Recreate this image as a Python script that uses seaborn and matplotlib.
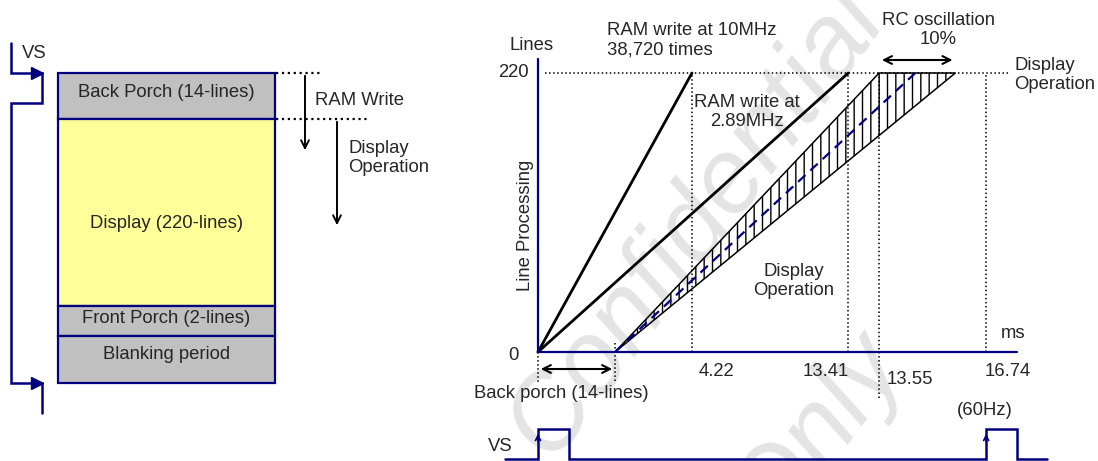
import numpy as np
import matplotlib
matplotlib.use("Agg")
import matplotlib.pyplot as plt
import seaborn as sns

# ---------------- data ----------------
frame_sections = ["Back Porch (14-lines)", "Display (220-lines)",
                  "Front Porch (2-lines)", "Blanking period"]
section_lines = [14, 220, 2, None]
section_colors = ["#C0C0C0", "#FFFF99", "#C0C0C0", "#C0C0C0"]

total_lines = 220
time_labels = ["4.22", "13.41", "13.55", "16.74"]
time_positions = [2.0, 4.03, 4.43, 5.82]      # schematic (non-linear) time axis
back_porch_end = 1.0
ram_series = ["RAM write at 10MHz", "RAM write at 2.89MHz"]
ram_end_times = [2.0, 4.03]
display_end_fast = 4.43
display_end_slow = 5.42
display_end_nominal = 4.9
vs_pulse_starts = [0.0, 5.82]
vs_pulse_width = 0.40

# ---------------- layout / style ----------------
section_draw_heights = [46, 187, 30, 47]   # schematic drawing heights (px)
label_frac = [0.43, 0.56, 0.42, 0.40]

sns.set_theme(style="white")
plt.rcParams['font.family'] = ['Liberation Sans', 'DejaVu Sans']
plt.rcParams['hatch.linewidth'] = 1.0
plt.rcParams['hatch.color'] = 'black'
NAVY = '#000080'
FS = 13.3

fig = plt.figure(figsize=(10.98, 4.61), dpi=100)

# ---------- left panel (pixel coordinates) ----------
axL = fig.add_axes([0, 0, 1, 1])
axL.set_xlim(0, 1098)
axL.set_ylim(461, 0)
axL.axis('off')

# watermark
axL.text(696, 222, "Confidential", rotation=53, fontsize=76, color='#E4E4E4',
         style='italic', ha='center', va='center', zorder=0)
axL.text(818, 432, "Only", rotation=53, fontsize=76, color='#E4E4E4',
         style='italic', ha='center', va='center', zorder=0)

bar_x, bar_w, bar_top = 166.5, 217, 73
bottoms = bar_top + np.concatenate([[0], np.cumsum(section_draw_heights)[:-1]])
axL.bar([bar_x] * len(frame_sections), section_draw_heights, bottom=bottoms,
        width=bar_w, color=section_colors, edgecolor=NAVY, linewidth=1.6, zorder=2)
for lab, b, h, f in zip(frame_sections, bottoms, section_draw_heights, label_frac):
    axL.text(bar_x, b + h * f, lab, ha='center', va='center', fontsize=FS, zorder=3)

# VS signal on the left
vs_x = [11, 11, 42, 42, 11, 11, 42, 42]
vs_y = [43, 73, 73, 103, 103, 383, 383, 413]
axL.plot(vs_x, vs_y, color=NAVY, lw=1.8, solid_joinstyle='miter', zorder=2)
axL.plot([37, 37], [73, 383], ls='none', marker='>', ms=9, color=NAVY, zorder=3)
axL.text(34, 54, "VS", ha='center', va='center', fontsize=FS)

# dotted guides and arrows
axL.plot([276, 320], [73, 73], color='black', ls=':', lw=1.6)
axL.plot([276, 367], [119, 119], color='black', ls=':', lw=1.6)
axL.annotate('', xy=(305, 153), xytext=(305, 73),
             arrowprops=dict(arrowstyle='->', color='black', lw=1.4, mutation_scale=14))
axL.annotate('', xy=(337, 228), xytext=(337, 119),
             arrowprops=dict(arrowstyle='->', color='black', lw=1.4, mutation_scale=14))
axL.text(315, 100, "RAM Write", ha='left', va='center', fontsize=FS)
axL.text(348, 158, "Display\nOperation", ha='left', va='center', fontsize=FS,
         linespacing=1.1)

# ---------- right panel (schematic time vs lines) ----------
UX = 77.0
UY = 279.0 / total_lines
X0P, Y0P = 538, 352
axR = fig.add_axes([0, 0, 1, 1])
axR.set_xlim(-X0P / UX, (1098 - X0P) / UX)
axR.set_ylim(-(461 - Y0P) / UY, Y0P / UY)
axR.axis('off')
axR.patch.set_alpha(0)


def P(px, py):
    return ((px - X0P) / UX, (Y0P - py) / UY)


# axes lines
axR.plot([0, 0], [0, P(0, 59)[1]], color=NAVY, lw=1.6, zorder=4)
axR.plot([0, P(1017, 0)[0]], [0, 0], color=NAVY, lw=1.6, zorder=4)

# dotted 220 line
axR.plot([P(545, 0)[0], P(1010, 0)[0]], [total_lines, total_lines],
         color='black', ls=':', lw=1.1)

# vertical dotted lines at time ticks
bottom_ext = [0, 0, P(0, 398)[1], 0]
for t, yb in zip(time_positions, bottom_ext):
    axR.plot([t, t], [yb, total_lines], color='black', ls=':', lw=1.1)
axR.plot([0, 0], [0, P(0, 382)[1]], color='black', ls=':', lw=1.1)
axR.plot([back_porch_end, back_porch_end], [P(0, 343)[1], P(0, 382)[1]],
         color='black', ls=':', lw=1.1)

# RAM write lines
for end in ram_end_times:
    sns.lineplot(x=[0, end], y=[0, total_lines], ax=axR, color='black',
                 lw=2.0, zorder=3)

# display operation band (RC oscillation spread)
axR.fill([back_porch_end, display_end_fast, display_end_slow],
         [0, total_lines, total_lines], facecolor='none', edgecolor='black',
         hatch='||', lw=1.1, zorder=3)
axR.plot([back_porch_end, display_end_nominal], [0, total_lines], color=NAVY,
         lw=1.6, dashes=(4.5, 3), zorder=4)

# arrows
axR.annotate('', xy=(display_end_fast, P(0, 60)[1]), xytext=(display_end_slow, P(0, 60)[1]),
             arrowprops=dict(arrowstyle='<->', color='black', lw=1.5, mutation_scale=14))
axR.annotate('', xy=(0, P(0, 369)[1]), xytext=(back_porch_end, P(0, 369)[1]),
             arrowprops=dict(arrowstyle='<->', color='black', lw=1.5, mutation_scale=14))

# VS signal
vb, vt = P(0, 459)[1], P(0, 429)[1]
vx = [P(505, 0)[0]]
vy = [vb]
for s in vs_pulse_starts:
    vx += [s, s, s + vs_pulse_width, s + vs_pulse_width]
    vy += [vb, vt, vt, vb]
vx.append(P(1047, 0)[0])
vy.append(vb)
axR.plot(vx, vy, color=NAVY, lw=1.8, solid_joinstyle='miter', clip_on=False)
for s in vs_pulse_starts:
    axR.annotate('', xy=(s, vt - 1.5), xytext=(s, vt - 12),
                 arrowprops=dict(arrowstyle='->', color=NAVY, lw=1.2, mutation_scale=9))

# tick labels
tick_dx = [24, -23, 31, 22]
tick_py = [371, 371, 379, 372]
for lab, t, dx, py in zip(time_labels, time_positions, tick_dx, tick_py):
    axR.text(t + dx / UX, P(0, py)[1], lab, ha='center', va='center', fontsize=FS)

def T(px, py, s, **kw):
    x, y = P(px, py)
    kw.setdefault('ha', 'center')
    kw.setdefault('va', 'center')
    axR.text(x, y, s, fontsize=FS, **kw)

T(532, 46, "Lines")
T(529, 73, str(total_lines), ha='right')
T(513, 355, "0")
T(525, 225, "Line Processing", rotation=90)
T(607, 40, "RAM write at 10MHz\n38,720 times", ha='left')
T(747, 112, "RAM write at\n2.89MHz")
T(938, 30, "RC oscillation\n10%")
T(1014, 75, "Display\nOperation", ha='left', linespacing=1.1)
T(794, 281, "Display\nOperation", linespacing=1.1)
T(1013, 334, "ms")
T(561, 393, "Back porch (14-lines)")
T(985, 410, "(60Hz)")
T(500, 446, "VS")

fig.savefig("out.png", dpi=100)
